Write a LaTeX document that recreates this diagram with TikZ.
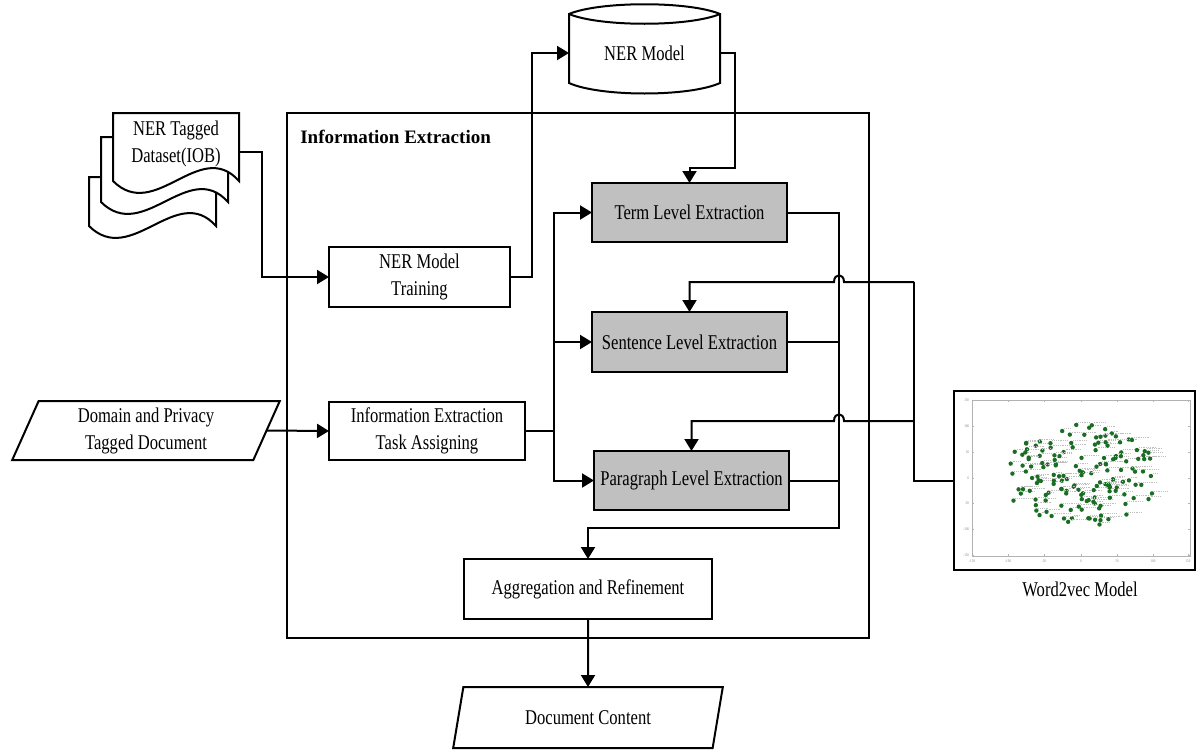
\documentclass[tikz,border=0pt]{standalone}
\usepackage{fontspec}
\setmainfont{Liberation Serif}[FakeStretch=0.79]
\newfontfamily\titleserif{Liberation Serif}
\usetikzlibrary{arrows.meta,shapes.geometric,calc}
\definecolor{boxgray}{RGB}{192,192,192}
\definecolor{ptgreen}{RGB}{25,110,35}
\begin{document}
\begin{tikzpicture}[x=1pt,y=-1pt,
  line width=2pt,
  every node/.style={outer sep=0pt},
  txt/.style={font=\fontsize{21}{27}\selectfont, align=center},
  procbox/.style={draw, txt, inner sep=0pt},
  shaded/.style={procbox, fill=boxgray},
  iobox/.style={draw, txt, trapezium, trapezium left angle=70,
    trapezium right angle=110, trapezium stretches=true, inner sep=0pt},
  arr/.style={-{Triangle[length=12pt,width=14pt]}},
  tick/.style={font=\fontsize{4}{4}\selectfont, text=gray, inner sep=0pt},
]
\useasboundingbox (0,0) rectangle (1196,750);

% surrounding module
\node[draw, minimum width=582pt, minimum height=525pt, anchor=north west] (ie) at (287,113) {};
\node[anchor=west, font=\titleserif\bfseries\fontsize{19}{22}\selectfont] (ietitle) at (297,137) {Information Extraction};

% stacked tagged dataset
\foreach \L/\T/\R/\B in {89/177/216/226, 101/137/228/202, 113/113/239/181} {
  \draw[fill=white] (\L,\T) -- (\R,\T) -- (\R,\B)
    .. controls ({\L+0.69*(\R-\L)},{\B-44}) and ({\L+0.333*(\R-\L)},{\B+42}) .. (\L,\B) -- cycle;
}
\node[txt] (dataset) at (176,144) {NER Tagged\\Dataset(IOB)};
\coordinate (dsout) at (239,152);

% NER model store
\draw[fill=white] (569,14) .. controls (600,1) and (689,1) .. (720,14) -- (720,83)
  .. controls (689,97) and (600,97) .. (569,83) -- cycle;
\draw (569,14) .. controls (600,27) and (689,27) .. (720,14);
\node[txt, minimum width=151pt, inner sep=0pt] (nermodel) at (644.5,53) {NER Model};

% inputs / outputs
\node[iobox, minimum width=268pt, minimum height=59pt] (domain) at (146,430.5) {Domain and Privacy\\Tagged Document};
\node[iobox, minimum width=270pt, minimum height=61pt] (doc) at (588,717.5) {Document Content};

% processing steps
\node[procbox, minimum width=181pt, minimum height=60pt] (train) at (419.5,277) {NER Model\\Training};
\node[procbox, minimum width=196pt, minimum height=58pt] (task) at (427,431) {Information Extraction\\Task Assigning};
\node[shaded, minimum width=195pt, minimum height=59pt] (term) at (689.5,212.5) {Term Level Extraction};
\node[shaded, minimum width=195pt, minimum height=60pt] (sent) at (689.5,342) {Sentence Level Extraction};
\node[shaded, minimum width=195pt, minimum height=59pt] (para) at (691.5,480.5) {Paragraph Level Extraction};
\node[procbox, minimum width=248pt, minimum height=60pt] (agg) at (588,589) {Aggregation and Refinement};

% word2vec embedding plot
\node[draw, minimum width=241pt, minimum height=179pt] (w2v) at (1074.5,480.5) {};
\node[txt] (w2vlabel) at (1080,589) {Word2vec Model};
\draw[gray!60, line width=0.6pt] (972,400) rectangle (1190,556);
\foreach \v/\px [count=\i] in {-150/972,-100/1008,-50/1044,0/1081,50/1117,100/1153,150/1188} {
  \draw[gray!60, line width=0.4pt] (\px,556) -- ++(0,-2) (\px,400) -- ++(0,2);
  \node[tick] (xt\i) at (\px,561) {\v};
}
\foreach \v/\py [count=\i] in {150/400,100/426,50/452,0/478,-50/503,-100/529,-150/555} {
  \draw[gray!60, line width=0.4pt] (972,\py) -- ++(2,0) (1190,\py) -- ++(-2,0);
  \node[tick, anchor=east] (yt\i) at (969,\py) {\v};
}
% points scattered over an elliptic cloud, each with its word mark
\pgfmathsetseed{7}
\foreach \k in {1,...,160} {
  \pgfmathsetmacro\rr{sqrt(rnd)}
  \pgfmathsetmacro\aa{360*rnd}
  \pgfmathsetmacro\dx{1081+0.72*(108*\rr*cos(\aa))}
  \pgfmathsetmacro\dy{478-0.52*(5+98*\rr*sin(\aa))}
  \pgfmathsetmacro\ll{5+13*rnd}
  \draw[gray!50, line width=0.8pt, densely dotted] (\dx+2,\dy-2.5) -- ++(\ll,0);
  \fill[ptgreen] (\dx,\dy) circle[radius=2.2pt];
}

% connectors
\draw[arr] (dsout) -- ++(23,0) |- (train.west);
\draw[arr] (train.east) -- ++(22,0) |- (nermodel.west);
\draw[arr] (nermodel.east) -- ++(15,0) -- ++(0,115) -| (term.north);
\draw[arr] (domain.east) -- (task.west);
\draw (task.east) -- ++(29,0) coordinate (split);
\draw[arr] (split) |- (term.west);
\draw[arr] (split) |- (sent.west);
\draw[arr] (split) |- (para.west);
\draw[arr] (term.east) -- ++(52,0) coordinate (mtop) -- ++(0,315.5) -| (agg.north);
\draw (sent.east) -- (sent.east -| mtop);
\draw (para.east) -- (para.east -| mtop);

\draw (w2v.west) -- ++(-40,0) coordinate (wbus) -- ++(0,-198.5) coordinate (wtop);
\coordinate (wmid) at (wbus |- 0,421);
\draw[arr] (wtop) -- ($(mtop |- wtop)+(5,0)$) .. controls +(0,-9) and +(0,-9) .. ($(mtop |- wtop)+(-5,0)$) -| (sent.north);
\draw[arr] (wmid) -- ($(mtop |- wmid)+(5,0)$) .. controls +(0,-9) and +(0,-9) .. ($(mtop |- wmid)+(-5,0)$) -| (para.north);
\draw[arr] (agg.south) -- (doc.north);
\end{tikzpicture}
\end{document}
